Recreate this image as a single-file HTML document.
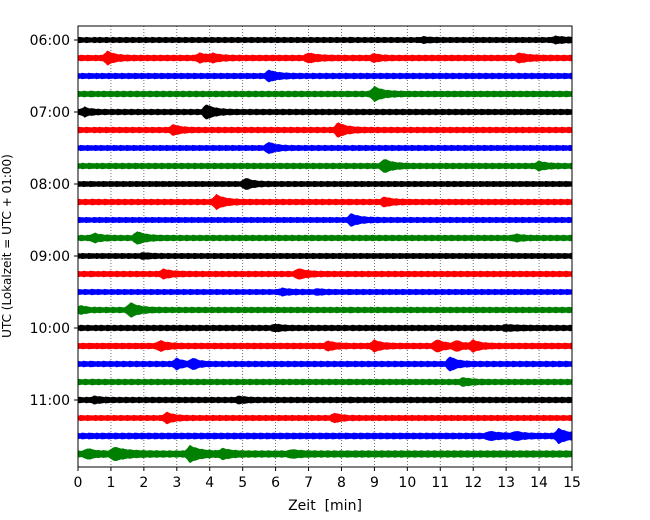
<!DOCTYPE html>
<html><head><meta charset="utf-8">
<style>
body{margin:0;background:#fff;}
svg{display:block;font-family:"DejaVu Sans","Liberation Sans",sans-serif;}
</style></head>
<body>
<svg id="chart" width="650" height="520" viewBox="0 0 650 520"></svg>
<script>
// ---- data ----
const rowLabels = ["06:00","07:00","08:00","09:00","10:00","11:00"];
const xTicks = [0,1,2,3,4,5,6,7,8,9,10,11,12,13,14,15];
const rowColors = ["#000000","#ff0000","#0000ff","#008000"];
const baseAmp = [2.5,2.7,2.6,2.7,2.6,2.6,2.5,2.6,2.5,2.6,2.5,2.6,2.5,2.6,2.5,2.6,2.6,2.7,2.6,2.6,2.6,2.5,2.8,3.1];
// events: [row, minute, half-height px, duration min]
const events = [
 [0,14.5,1.5,0.8],[0,10.5,1,0.5],
 [1,0.9,4.5,0.5],[1,3.7,2.5,0.6],[1,4.1,2,0.5],[1,7.0,2.5,0.7],[1,9.0,2,0.4],[1,13.4,2.5,0.7],
 [2,5.8,3.5,0.6],
 [3,9.0,5,0.6],
 [4,0.2,2.5,0.4],[4,3.9,5,0.6],
 [5,2.9,3,0.5],[5,7.9,5,0.6],
 [6,5.8,3.5,0.5],
 [7,9.3,4.5,0.6],[7,14.0,2.5,0.5],
 [8,5.1,3.5,0.5],
 [9,4.2,5,0.6],[9,9.3,2.5,0.6],
 [10,8.3,4,0.6],
 [11,0.5,2.5,0.5],[11,1.8,4,0.6],[11,13.3,1.5,0.5],
 [12,2.0,1,0.5],
 [13,2.6,2.5,0.6],[13,6.7,3,0.6],
 [14,6.2,1.5,0.6],[14,7.3,1,0.4],
 [15,1.6,5,0.6],[15,0.1,2,0.4],
 [16,6.0,1.5,0.5],[16,13,1,1],
 [17,2.5,3,0.5],[17,7.6,2.5,0.5],[17,9.0,3.5,0.5],[17,10.9,4,0.5],[17,11.5,3,0.4],[17,12.0,3.5,0.5],
 [18,3.0,3.5,0.4],[18,3.5,3.5,0.4],[18,11.3,5,0.5],
 [19,11.7,2,0.6],
 [20,4.9,1.5,0.5],[20,0.5,1.5,0.5],
 [21,2.7,3.5,0.5],[21,7.8,2.5,0.5],
 [22,12.5,2,0.8],[22,13.3,2,0.5],[22,14.6,5,0.6],
 [23,1.1,4,0.9],[23,3.4,5.5,0.7],[23,0.3,2.5,0.5],[23,4.4,2.5,0.6],[23,6.5,1.5,0.6]
];
// ---- layout ----
const L=78,R=572,T=26,B=467;
const x = m => L + m*(R-L)/15;
const y = r => 40 + r*18;
const NS="http://www.w3.org/2000/svg";
const svg=document.getElementById('chart');
function mk(tag,attrs,parent){const e=document.createElementNS(NS,tag);for(const k in attrs)e.setAttribute(k,attrs[k]);(parent||svg).appendChild(e);return e;}

// gridlines
const grid=mk('g',{});


xTicks.forEach(t=>{ if(t>0&&t<15) mk('line',{x1:x(t),x2:x(t),y1:T,y2:B,stroke:'#000','stroke-width':0.8,'stroke-dasharray':'1,2','stroke-opacity':0.7},grid);});

// traces
const traces=mk('g',{});


for(let r=0;r<24;r++){
  const evs=events.filter(e=>e[0]===r);
  const top=[],bot=[];
  for(let m=0;m<=15.0001;m+=0.04){
    let a=baseAmp[r];
    evs.forEach(e=>{const d=m-e[1]; if(d>=-0.15){ const k=d<0?(1+d/0.15):Math.exp(-d/(e[3]*0.4)); a+=e[2]*k; }});
    a+=((Math.floor(m*25)*7919+r*31)%5)*0.15;
    top.push([x(m),y(r)-a]);bot.push([x(m),y(r)+a]);
  }
  const pts=top.concat(bot.reverse()).map(p=>p[0].toFixed(1)+','+p[1].toFixed(1)).join(' ');
  const p=mk('polygon',{points:pts,fill:rowColors[r%4]},traces);
  
  
}

// frame
const fr=mk('rect',{x:L,y:T,width:R-L,height:B-T,fill:'none',stroke:'#000','stroke-width':1});



// x axis
const xa=mk('g',{});


xTicks.forEach(t=>{
  mk('line',{x1:x(t),x2:x(t),y1:B,y2:B+4,stroke:'#000'},xa);
  const tx=mk('text',{x:x(t),y:B+20,'font-size':14,'text-anchor':'middle'},xa);
  tx.textContent=t;
  
  
});
const xt=mk('text',{x:325,y:510,'font-size':14,'text-anchor':'middle',style:'white-space:pre'});
xt.textContent='Zeit\u00a0 [min]';



// y axis
const ya=mk('g',{});


rowLabels.forEach((lb,i)=>{
  const yy=y(i*4);
  mk('line',{x1:L-4,x2:L,y1:yy,y2:yy,stroke:'#000'},ya);
  const tx=mk('text',{x:L-8,y:yy+5,'font-size':14,'text-anchor':'end'},ya);
  tx.textContent=lb;
  
  
});
const yt=mk('text',{x:0,y:0,'font-size':12,'text-anchor':'middle',transform:'translate(11,246) rotate(-90)'});
yt.textContent='UTC (Lokalzeit = UTC + 01:00)';


</script>
</body></html>
